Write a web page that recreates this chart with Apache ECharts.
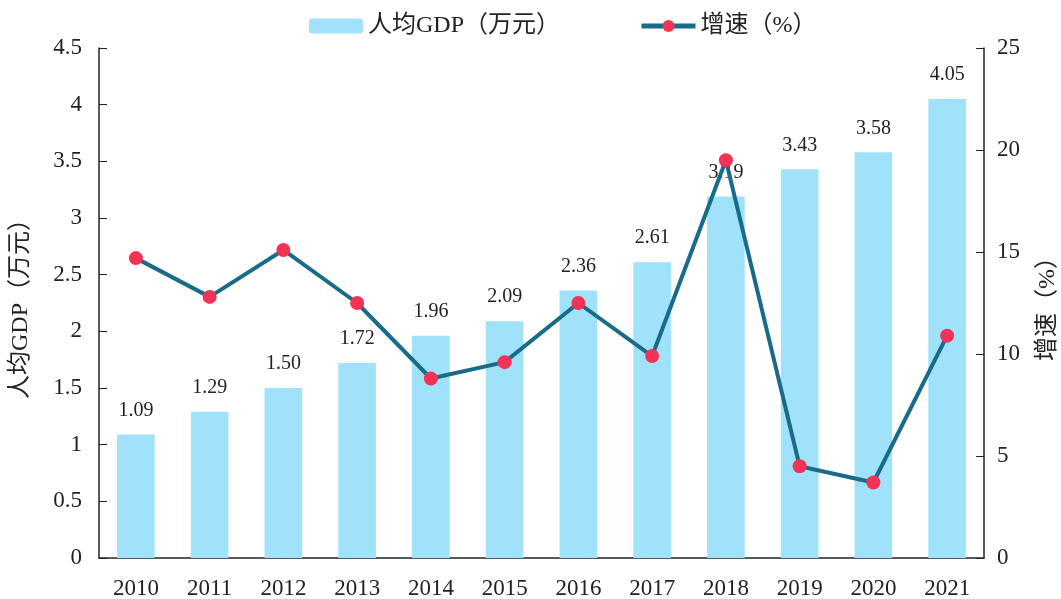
<!DOCTYPE html>
<html>
<head>
    <meta charset="utf-8">
    <title>人均GDP与增速</title>
    <script src="https://cdn.jsdelivr.net/npm/echarts@6/dist/echarts.min.js"></script>
    <style>
        html, body { margin: 0; padding: 0; background: #fff; }
        #chart1 { width: 1061px; height: 599px; }
    </style>
</head>
<body>
<div id="chart1"></div>
<script type="text/javascript">
    // 年份
    var years = ['2010', '2011', '2012', '2013', '2014', '2015', '2016', '2017', '2018', '2019', '2020', '2021'];
    // 人均GDP（万元）
    var gdpPerCapita = [1.09, 1.29, 1.50, 1.72, 1.96, 2.09, 2.36, 2.61, 3.19, 3.43, 3.58, 4.05];
    // 增速（%）
    var growthRate = [14.7, 12.8, 15.1, 12.5, 8.8, 9.6, 12.5, 9.9, 19.5, 4.5, 3.7, 10.9];

    var fontFamily = '"Liberation Serif", "Times New Roman", "Noto Sans CJK SC", serif';

    var myChart1 = echarts.init(document.getElementById('chart1'));
    myChart1.setOption({
        animation: false,
        textStyle: { fontFamily: fontFamily, color: '#222' },
        legend: {
            top: 9,
            left: 304,
            itemGap: 79,
            itemWidth: 54,
            itemHeight: 15,
            textStyle: { fontSize: 24, fontFamily: fontFamily, color: '#222' },
            data: [
                { name: '人均GDP（万元）' },
                { name: '增速（%）', lineStyle: { width: 5 } }
            ]
        },
        grid: { left: 99, right: 77, top: 48, bottom: 41, containLabel: false, outerBoundsMode: 'none' },
        xAxis: {
            type: 'category',
            data: years,
            axisTick: { show: false },
            axisLine: { lineStyle: { color: '#222', width: 1.5 } },
            axisLabel: { fontSize: 23, color: '#222', margin: 19, fontFamily: fontFamily }
        },
        yAxis: [{
            type: 'value',
            name: '人均GDP（万元）',
            nameLocation: 'middle',
            nameGap: 66,
            nameTextStyle: { fontSize: 24, color: '#222', fontFamily: fontFamily },
            min: 0, max: 4.5, interval: 0.5,
            splitLine: { show: false },
            axisLine: { show: true, lineStyle: { color: '#222', width: 1.5 } },
            axisTick: { show: true, inside: true, length: 8, lineStyle: { color: '#222' } },
            axisLabel: { fontSize: 23, color: '#222', margin: 17, fontFamily: fontFamily }
        }, {
            type: 'value',
            name: '增速（%）',
            nameLocation: 'middle',
            nameGap: 52,
            nameTextStyle: { fontSize: 24, color: '#222', fontFamily: fontFamily },
            min: 0, max: 25, interval: 5,
            splitLine: { show: false },
            axisLine: { show: true, lineStyle: { color: '#222', width: 1.5 } },
            axisTick: { show: true, inside: true, length: 8, lineStyle: { color: '#222' } },
            axisLabel: { fontSize: 23, color: '#222', margin: 13, fontFamily: fontFamily }
        }],
        series: [{
            name: '人均GDP（万元）',
            type: 'bar',
            data: gdpPerCapita,
            barWidth: '51%',
            itemStyle: { color: '#A0E2FA' },
            label: {
                show: true,
                position: 'top',
                distance: 14,
                fontSize: 20,
                color: '#222',
                fontFamily: fontFamily,
                formatter: function (p) { return p.value.toFixed(2); }
            }
        }, {
            name: '增速（%）',
            type: 'line',
            yAxisIndex: 1,
            data: growthRate,
            symbol: 'circle',
            symbolSize: 14,
            lineStyle: { color: '#1A6B8A', width: 4 },
            itemStyle: { color: '#F23356' }
        }]
    });
</script>
</body>
</html>
